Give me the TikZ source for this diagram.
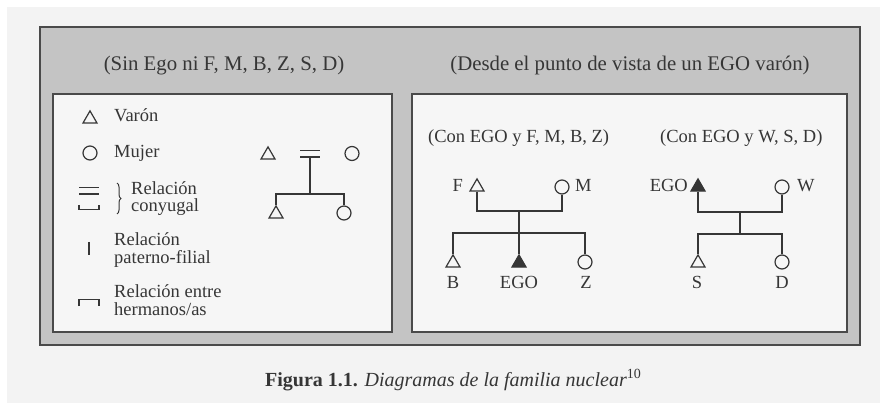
\documentclass[tikz,border=0pt]{standalone}
\usepackage{fontspec}
\setmainfont{Liberation Serif}
\usetikzlibrary{shapes.geometric,decorations.pathreplacing}
\definecolor{ink}{HTML}{363636}
\definecolor{frame}{HTML}{4A4A4A}
\definecolor{shade}{HTML}{C4C4C4}
\definecolor{paper}{HTML}{F3F3F3}
\definecolor{panel}{HTML}{F6F6F6}
\begin{document}
\begin{tikzpicture}[x=1pt,y=-1pt,
  txt/.style={font=\fontsize{18.5}{20}\selectfont,text=ink,inner sep=0pt},
  head/.style={font=\fontsize{20.8}{22}\selectfont,text=ink,inner sep=0pt},
  male/.style={regular polygon,regular polygon sides=3,minimum size=16.2pt,inner sep=0pt,draw=ink,line width=1.2pt},
  egonode/.style={male,fill=ink},
  female/.style={circle,minimum size=14pt,inner sep=0pt,draw=ink,line width=1.2pt},
  link/.style={draw=ink,line width=1.3pt},
  boxline/.style={draw=frame,line width=2pt}]
\useasboundingbox (0,0) rectangle (880,403);
\fill[white] (0,0) rectangle (880,403);
\fill[paper] (7,7) rectangle (880,403);
% frames
\filldraw[boxline,fill=shade] (40,27) rectangle (860,345);
\filldraw[boxline,fill=panel] (53,94) rectangle (392,332);
\filldraw[boxline,fill=panel] (412,94) rectangle (847,332);
% headings
\node[head,anchor=base] (h1) at (224,71) {(Sin Ego ni F, M, B, Z, S, D)};
\node[head,anchor=base] (h2) at (630,71) {(Desde el punto de vista de un EGO varón)};
% legend
\node[male] (lgm) at (90,119) {};
\node[txt,anchor=base west] (lgmt) at (114,122) {Varón};
\node[female] (lgf) at (90,153) {};
\node[txt,anchor=base west] (lgft) at (114,158) {Mujer};
\draw[link] (79,187.5) -- (99,187.5);
\draw[link] (79,194) -- (99,194);
\draw[link] (79,205) -- (79,209.5) -- (99,209.5) -- (99,205);
\draw[link,line width=1pt,decorate,decoration={brace,amplitude=4pt}] (117,183) -- (117,214);
\node[txt,anchor=base west] (lgc1) at (131,195) {Relación};
\node[txt,anchor=base west] (lgc2) at (131,212) {conyugal};
\draw[link] (89,242) -- (89,255);
\node[txt,anchor=base west] (lgp1) at (114,246) {Relación};
\node[txt,anchor=base west] (lgp2) at (114,263) {paterno-filial};
\draw[link] (79,306) -- (79,299.5) -- (99,299.5) -- (99,306);
\node[txt,anchor=base west] (lgh1) at (114,297) {Relación entre};
\node[txt,anchor=base west] (lgh2) at (114,315) {hermanos/as};
% left example
\node[male] (T0) at (268,155) {};
\node[female] (C0) at (352,153.5) {};
\draw[link] (300,150.5) -- (320,150.5);
\draw[link] (300,157) -- (320,157);
\coordinate (eq) at (310,157);
\coordinate (s0) at (310,194);
\node[male] (T1) at (276,214) {};
\node[female] (C1) at (344,213) {};
\draw[link] (eq) -- (s0);
\draw[link] (T1.north) |- (s0) -| (C1.north);
% right box sub-headings
\node[txt,anchor=base west] (r1) at (428,143) {(Con EGO y F, M, B, Z)};
\node[txt,anchor=base west] (r2) at (660,143) {(Con EGO y W, S, D)};
% family 1
\node[male] (F) at (477,187) {};
\node[txt,anchor=base east] (Fl) at (463,192) {F};
\node[female] (M) at (562,187) {};
\node[txt,anchor=base west] (Ml) at (575,192) {M};
\node[male] (B) at (453,263) {};
\node[egonode] (E1) at (519,263) {};
\node[female] (Z) at (585,262) {};
\node[txt,anchor=base] (Bl) at (453,288) {B};
\node[txt,anchor=base] (E1l) at (519,288) {EGO};
\node[txt,anchor=base] (Zl) at (586,288) {Z};
\coordinate (p1) at (519,211);
\coordinate (s1) at (519,233);
\draw[link] (F.south) |- (p1) -| (M.south);
\draw[link] (p1) -- (E1.north);
\draw[link] (B.north) |- (s1) -| (Z.north);
% family 2
\node[egonode] (E2) at (698,187) {};
\node[txt,anchor=base east] (E2l) at (688,192) {EGO};
\node[female] (W) at (782,187) {};
\node[txt,anchor=base west] (Wl) at (797,192) {W};
\node[male] (S) at (698,263) {};
\node[female] (D) at (782,262) {};
\node[txt,anchor=base] (Sl) at (697,288) {S};
\node[txt,anchor=base] (Dl) at (782,288) {D};
\coordinate (p2) at (740,212);
\coordinate (s2) at (740,234);
\draw[link] (E2.south) |- (p2) -| (W.south);
\draw[link] (p2) -- (s2);
\draw[link] (S.north) |- (s2) -| (D.north);
% caption
\node[anchor=base west,font=\fontsize{20}{22}\selectfont,text=ink,inner sep=0pt] (cap) at (265,386)
  {\textbf{Figura 1.1.} \textit{Diagramas de la familia nuclear}\textsuperscript{10}};
\end{tikzpicture}
\end{document}
